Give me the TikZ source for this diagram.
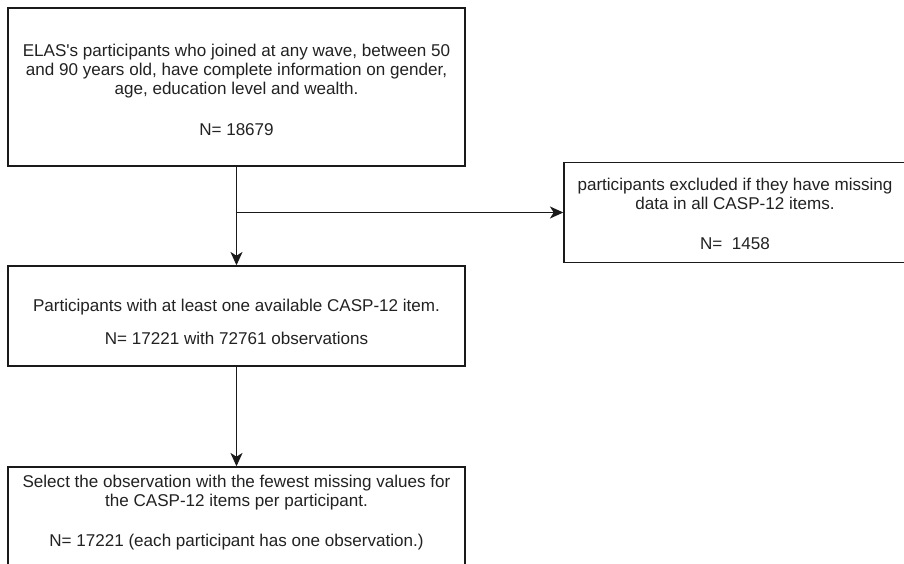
\documentclass[tikz,border=0pt]{standalone}
\usepackage{fontspec}
\setmainfont{Liberation Sans}
\usetikzlibrary{arrows.meta}
\definecolor{ink}{HTML}{1A1A1A}
\definecolor{txt}{HTML}{222222}
\begin{document}
\begin{tikzpicture}[x=0.75pt,y=-0.75pt,
  box/.style={draw=ink,line width=1.05pt,fill=white,inner sep=0pt,anchor=center},
  boxtext/.style={align=center,text=txt,font=\fontsize{12.8pt}{14.25pt}\selectfont,inner sep=0pt,anchor=center},
  conn/.style={draw=ink,line width=1pt,-{Stealth[length=10pt,width=9pt,inset=2.8pt]}}]
\useasboundingbox[fill=white] (0,0) rectangle (904,564);
\node[box,minimum width=457*0.75pt,minimum height=158*0.75pt] (b1) at (236.5,87) {};
\node[box,minimum width=348*0.75pt,minimum height=100*0.75pt] (ex) at (738,212.5) {};
\node[box,minimum width=457*0.75pt,minimum height=100*0.75pt] (b2) at (236.5,316) {};
\node[box,minimum width=457*0.75pt,minimum height=123*0.75pt] (b3) at (236.5,528.5) {};
\node[boxtext] (t1) at (236.5,89.5) {ELAS\textquotesingle s participants who joined at any wave, between 50\\and 90 years old, have complete information on gender,\\age, education level and wealth.\\[16.5pt]N= 18679};
\node[boxtext] (t2) at (735,213.5) {participants excluded if they have missing\\data in all CASP-12 items.\\[15.75pt]N=\ \ 1458};
\node[boxtext] (t3) at (236.5,321.5) {Participants with at least one available CASP-12 item.\\[10.5pt]N= 17221 with 72761 observations};
\node[boxtext] (t4) at (236.5,512.5) {Select the observation with the fewest missing values for\\the CASP-12 items per participant.\\[15.75pt]N= 17221 (each participant has one observation.)};
\coordinate (j) at (b1.south |- ex.west);
\draw[conn] (b1.south) -- (b2.north);
\draw[conn] (j) -- (ex.west);
\draw[conn] (b2.south) -- (b3.north);
\end{tikzpicture}
\end{document}
